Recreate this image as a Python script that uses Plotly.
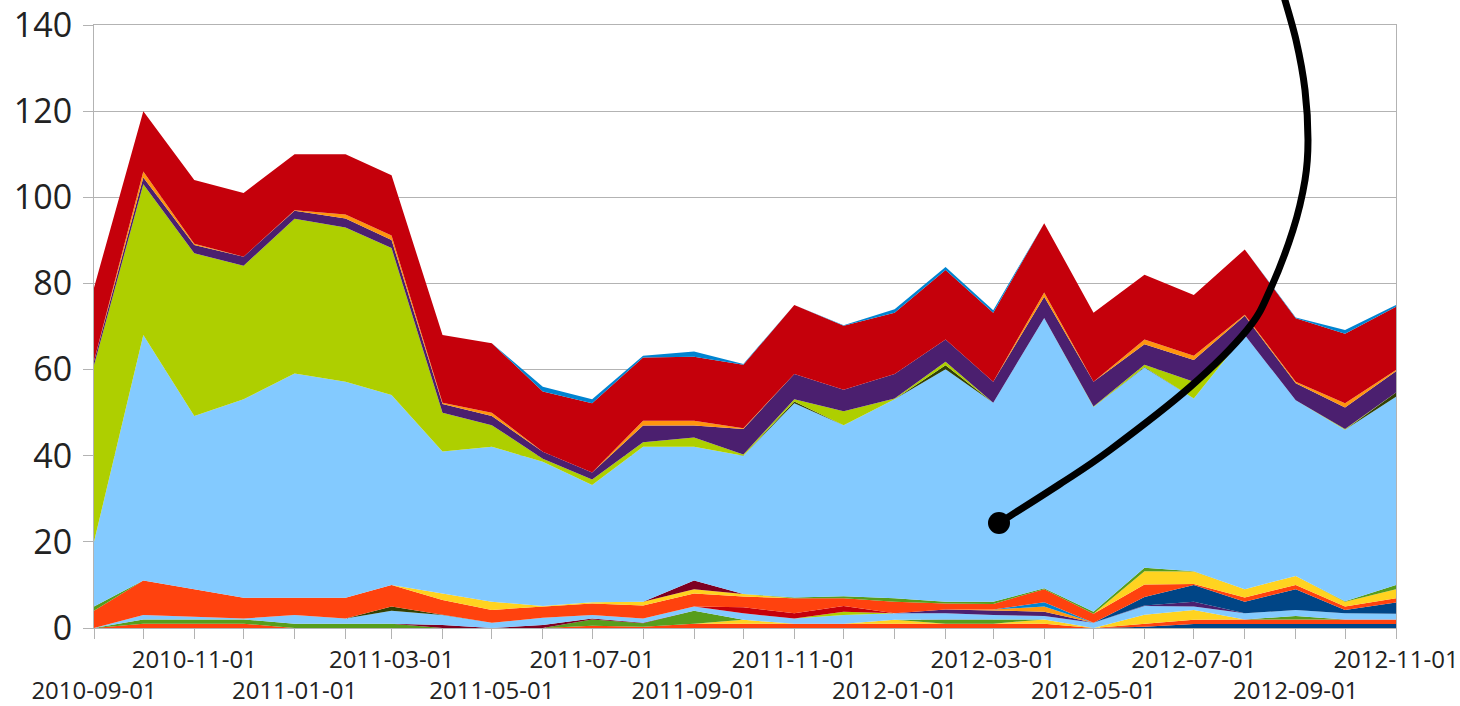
import plotly.graph_objects as go

months = [
    "2010-09-01", "2010-10-01", "2010-11-01", "2010-12-01", "2011-01-01", "2011-02-01",
    "2011-03-01", "2011-04-01", "2011-05-01", "2011-06-01", "2011-07-01", "2011-08-01",
    "2011-09-01", "2011-10-01", "2011-11-01", "2011-12-01", "2012-01-01", "2012-02-01",
    "2012-03-01", "2012-04-01", "2012-05-01", "2012-06-01", "2012-07-01", "2012-08-01",
    "2012-09-01", "2012-10-01", "2012-11-01",
]

# stacked series, bottom to top
s01 = [0, 0, 0, 0, 0, 0, 0, 0, 0, 0, 0, 0, 0, 0, 0, 0, 0, 0, 0, 0, 0, 0.3, 0.9, 0.9, 0.9, 0.9, 0.9]
s02 = [0, 1, 1, 1, 0, 0, 0, 0, 0, 0, 0.5, 0.3, 1, 1, 1, 1, 1, 1, 1, 1, 0, 0.7, 1.0, 1.1, 1.1, 1.1, 1.1]
s03 = [0, 0, 0, 0, 0, 0, 0, 0, 0, 0, 0, 0, 0, 0.9, 0, 0, 0.9, 0, 0, 1.0, 0, 2.1, 2.3, 0, 0, 0, 0]
s04 = [0, 1, 1, 1, 1, 1, 1, 0, 0, 0, 1.5, 0.8, 3, 0, 0, 0, 0, 1, 1, 0, 0, 0, 0, 0, 0.8, 0, 0]
s05 = [0, 0, 0, 0, 0, 0, 0, 0.7, 0, 0.7, 0.2, 0.1, 0, 0, 0, 0, 0, 0, 0, 0, 0, 0, 0, 0, 0, 0, 0]
s06 = [0, 1, 0.6, 0.2, 2, 1.2, 3, 2.3, 1.2, 1.7, 0.8, 1.0, 1, 1.5, 1.2, 2, 1.5, 1.4, 1, 0.8, 1.2, 2, 0.8, 1.4, 1.4, 1.4, 1.3]
s07 = [0, 0, 0, 0, 0, 0, 1, 0, 0, 0, 0, 0, 0, 0, 0, 0, 0, 0, 0, 0, 0, 0, 0, 0, 0, 0, 0]
s08 = [0, 0, 0, 0, 0, 0, 0, 0, 0, 0, 0, 0, 0, 0, 0, 0.8, 0, 0, 0, 0, 0, 0, 0, 0, 0, 0, 0]
s09 = [0, 0, 0, 0, 0, 0, 0, 0, 0, 0, 0, 0, 0, 0, 0, 0, 0, 0.9, 1, 1, 0, 0.1, 1.1, 0, 0, 0, 0]
s10 = [0, 0, 0, 0, 0, 0, 0, 0, 0, 0, 0, 0, 0, 0, 0, 0, 0, 0, 0.3, 1.2, 0, 0, 0, 0, 0, 0, 0]
s11 = [0, 0, 0, 0, 0, 0, 0, 0, 0, 0, 0, 0, 0, 1.4, 1.2, 1.3, 0, 0, 0, 0, 0, 0, 0, 0, 0, 0, 0]
s12 = [0, 0, 0, 0, 0, 0, 0, 0, 0, 0, 0, 0, 0, 0, 0, 0, 0, 0, 0, 1.0, 0, 0, 0, 0, 0, 0, 0]
s13 = [0, 0, 0, 0, 0, 0, 0, 0, 0, 0, 0, 0, 0, 0, 0, 0, 0, 0, 0, 0, 0, 2, 3.9, 2.7, 4.8, 0.8, 2.6]
s14 = [4, 8, 6.4, 4.8, 4, 4.8, 5, 3.5, 3, 2.6, 2.7, 3.0, 3, 2.5, 3.5, 1.8, 2.7, 1.4, 1.3, 3, 2.1, 2.9, 0.2, 1, 1, 0.8, 1]
s15 = [0, 0, 0, 0, 0, 0, 0, 1.5, 1.9, 0.1, 0.3, 0.9, 1, 0.6, 0, 0, 0, 0, 0, 0, 0, 3.1, 2.9, 1.9, 2.1, 1.1, 2.1]
s16 = [1, 0, 0, 0, 0, 0, 0, 0, 0, 0, 0, 0, 0, 0, 0.2, 0.5, 0.8, 0.4, 0.5, 0.2, 0.5, 0.8, 0.1, 0, 0, 0.1, 1]
s17 = [0, 0, 0, 0, 0, 0, 0, 0, 0, 0, 0, 0, 2, 0, 0, 0, 0, 0, 0, 0, 0, 0, 0, 0, 0, 0, 0]
s18 = [15, 57, 40.2, 46.1, 52.1, 50.2, 44.1, 33, 36, 33.5, 27.2, 36, 31.1, 32.1, 45.1, 39.7, 46.2, 54, 46.2, 62.8, 47.5, 46.5, 40.1, 59, 40.8, 39.8, 43.7]
s19 = [0, 0, 0, 0, 0, 0, 0, 0, 0, 0, 0, 0, 0, 0, 0.4, 0, 0, 0.9, 0, 0, 0, 0.1, 0, 0, 0, 0, 1.0]
s20 = [41, 35, 37.8, 31, 35.9, 35.8, 34.1, 9, 5, 0.7, 1.3, 1.0, 2.1, 0.3, 0.5, 3.2, 0.2, 0.8, 0, 0, 0.1, 0.5, 3.9, 0, 0, 0.2, 0]
s21 = [1, 1.6, 1.9, 2.1, 1.9, 2.1, 1.9, 2, 2.1, 1.6, 1.6, 3.9, 2.8, 5.9, 5.9, 5.0, 5.7, 5.2, 4.9, 4.9, 5.8, 4.8, 5.0, 4.5, 3.9, 5.0, 4.9]
s22 = [0, 1.4, 0.3, 0, 0.1, 0.9, 1.0, 0.3, 0.8, 0, 0, 1.1, 1.1, 0.2, 0, 0, 0, 0, 0, 1.0, 0, 1.1, 1.0, 0.2, 0.4, 1.0, 0.3]
s23 = [17, 14, 14.8, 14.8, 13, 14, 14, 15.7, 16.1, 14, 16.1, 14.7, 14.9, 14.7, 16, 14.9, 14.2, 16.1, 16, 16.1, 16, 15, 14.1, 15.2, 14.7, 16.1, 14.7]
s24 = [0, 0, 0, 0, 0, 0, 0, 0, 0, 1.1, 0.9, 0.4, 1.2, 0.2, 0, 0.1, 0.8, 0.7, 0.6, 0, 0, 0, 0, 0, 0.2, 0.9, 0.4]

palette = ["#004586", "#ff420e", "#ffd320", "#579d1c", "#7e0021", "#83caff",
           "#314004", "#aecf00", "#4b1f6f", "#ff950e", "#c5000b", "#0084d1"]

series = [s01, s02, s03, s04, s05, s06, s07, s08, s09, s10, s11, s12,
          s13, s14, s15, s16, s17, s18, s19, s20, s21, s22, s23, s24]

fig = go.Figure()
for k, vals in enumerate(series):
    col = palette[k % 12]
    fig.add_trace(go.Scatter(
        x=months, y=vals, stackgroup="one", mode="lines",
        line=dict(width=0, color=col), fillcolor=col,
        hoverinfo="skip", showlegend=False,
    ))

# staggered x tick labels
tick_text = []
for k, m in enumerate(months):
    if k % 4 == 0:
        tick_text.append("<br>" + m)
    elif k % 4 == 2:
        tick_text.append(m)
    else:
        tick_text.append("")

FW, FH = 1460, 706
L, R, T, B = 94, 1396, 25, 628
W, H = R - L, B - T


def px(x):
    return (x - L) / W


def py(y):
    return (B - y) / H


# annotation curve (pixel anchor points), smoothed with Catmull-Rom
pts = [(999, 523), (1060, 484), (1110, 450), (1190, 387), (1247, 330), (1270, 290),
       (1293, 230), (1305, 180), (1308, 140), (1305, 90), (1296, 40), (1282, -10)]
path = "M %.5f,%.5f" % (px(pts[0][0]), py(pts[0][1]))
for i in range(len(pts) - 1):
    p0 = pts[i - 1] if i > 0 else pts[i]
    p1 = pts[i]
    p2 = pts[i + 1]
    p3 = pts[i + 2] if i + 2 < len(pts) else pts[i + 1]
    c1 = (p1[0] + (p2[0] - p0[0]) / 6, p1[1] + (p2[1] - p0[1]) / 6)
    c2 = (p2[0] - (p3[0] - p1[0]) / 6, p2[1] - (p3[1] - p1[1]) / 6)
    path += " C %.5f,%.5f %.5f,%.5f %.5f,%.5f" % (
        px(c1[0]), py(c1[1]), px(c2[0]), py(c2[1]), px(p2[0]), py(p2[1]))

r = 11
cx, cy = 999, 523
fig.add_shape(type="path", path=path, xref="paper", yref="paper",
              line=dict(color="black", width=7), layer="above")
fig.add_shape(type="circle", xref="paper", yref="paper",
              x0=px(cx - r), x1=px(cx + r), y0=py(cy + r), y1=py(cy - r),
              fillcolor="black", line=dict(color="black", width=0), layer="above")

fig.update_layout(
    width=FW, height=FH,
    margin=dict(l=L, r=FW - R, t=T, b=FH - B, autoexpand=False),
    paper_bgcolor="white", plot_bgcolor="white",
    font=dict(family="Open Sans", color="#222222"),
    xaxis=dict(
        type="date", range=[months[0], months[-1]], automargin=False,
        tickmode="array", tickvals=months, ticktext=tick_text,
        tickangle=0, ticklabelstandoff=0,
        ticks="outside", ticklen=10, tickcolor="#b3b3b3", tickwidth=1,
        showline=True, linecolor="#b3b3b3", linewidth=1, mirror=True,
        showgrid=False, zeroline=False,
        tickfont=dict(size=24, family="Open Sans", color="#222222"),
    ),
    yaxis=dict(
        range=[0, 140], dtick=20, tick0=0, automargin=False,
        ticklabelstandoff=4,
        ticks="outside", ticklen=10, tickcolor="#b3b3b3", tickwidth=1,
        showline=True, linecolor="#b3b3b3", linewidth=1, mirror=True,
        showgrid=True, gridcolor="#b3b3b3", gridwidth=1, zeroline=False,
        tickfont=dict(size=34, family="Open Sans", color="#222222"),
    ),
)

fig.write_html("out.html", config={"displayModeBar": False},
               post_script="document.body.style.margin='0';")
